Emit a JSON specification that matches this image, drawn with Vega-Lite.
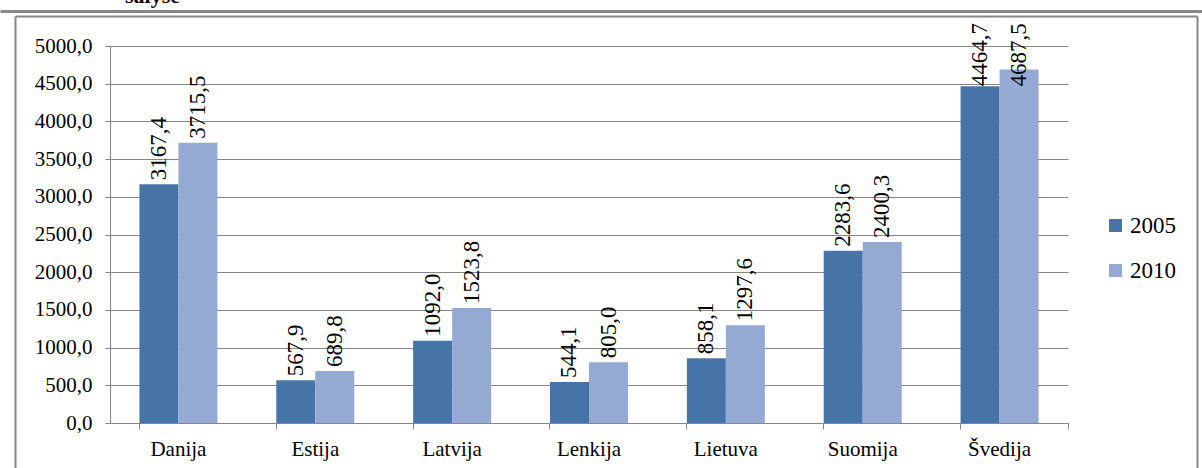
{
  "$schema": "https://vega.github.io/schema/vega-lite/v6.json",
  "width": 958,
  "height": 377,
  "autosize": {"type": "none"},
  "padding": {"left": 110, "top": 46, "right": 134, "bottom": 45},
  "background": "white",
  "config": {
    "font": "Liberation Serif",
    "view": {"stroke": null},
    "axis": {"labelFont": "Liberation Serif", "labelColor": "black", "labelFontSize": 21, "domainColor": "#868686", "tickColor": "#868686", "gridColor": "#868686"},
    "legend": {"labelFont": "Liberation Serif"},
    "text": {"font": "Liberation Serif"}
  },
  "title": {"text": "salyse", "anchor": "start", "frame": "group", "dx": 15, "dy": 14, "offset": 0, "fontSize": 22, "fontWeight": "bold", "font": "Liberation Serif", "color": "black", "baseline": "alphabetic"},
  "datasets": {
    "main": [
      {"country": "Danija", "year": "2005", "value": 3167.4, "label": "3167,4"},
      {"country": "Danija", "year": "2010", "value": 3715.5, "label": "3715,5"},
      {"country": "Estija", "year": "2005", "value": 567.9, "label": "567,9"},
      {"country": "Estija", "year": "2010", "value": 689.8, "label": "689,8"},
      {"country": "Latvija", "year": "2005", "value": 1092.0, "label": "1092,0"},
      {"country": "Latvija", "year": "2010", "value": 1523.8, "label": "1523,8"},
      {"country": "Lenkija", "year": "2005", "value": 544.1, "label": "544,1"},
      {"country": "Lenkija", "year": "2010", "value": 805.0, "label": "805,0"},
      {"country": "Lietuva", "year": "2005", "value": 858.1, "label": "858,1"},
      {"country": "Lietuva", "year": "2010", "value": 1297.6, "label": "1297,6"},
      {"country": "Suomija", "year": "2005", "value": 2283.6, "label": "2283,6"},
      {"country": "Suomija", "year": "2010", "value": 2400.3, "label": "2400,3"},
      {"country": "Švedija", "year": "2005", "value": 4464.7, "label": "4464,7"},
      {"country": "Švedija", "year": "2010", "value": 4687.5, "label": "4687,5"}
    ],
    "frame": [{"f": 0}, {"f": 1}]
  },
  "layer": [
    {
      "data": {"name": "main"},
      "encoding": {
        "x": {"field": "country", "type": "nominal", "sort": ["Danija", "Estija", "Latvija", "Lenkija", "Lietuva", "Suomija", "Švedija"],
              "scale": {"paddingInner": 0.43, "paddingOuter": 0.215},
              "axis": {"title": null, "labelAngle": 0, "bandPosition": 0, "tickSize": 6, "labelPadding": 9, "grid": false}},
        "xOffset": {"field": "year", "type": "nominal"},
        "y": {"field": "value", "type": "quantitative", "scale": {"domain": [0, 5000], "nice": false},
              "axis": {"title": null, "values": [0, 500, 1000, 1500, 2000, 2500, 3000, 3500, 4000, 4500, 5000], "labelExpr": "replace(format(datum.value, '.1f'), '.', ',')", "tickSize": 5, "labelPadding": 13, "grid": true}}
      },
      "layer": [
        {
          "mark": {"type": "bar"},
          "encoding": {
            "color": {"field": "year", "type": "nominal", "scale": {"range": ["#4674A8", "#95AAD3"]},
                      "legend": {"orient": "none", "legendX": 994, "legendY": 168, "title": null, "labelFontSize": 23, "labelColor": "black", "symbolType": "square", "symbolSize": 169, "symbolStrokeWidth": 0, "rowPadding": 21, "labelOffset": 3, "padding": 0, "offset": 0}}
          }
        },
        {
          "mark": {"type": "text", "angle": 270, "align": "left", "baseline": "middle", "dx": {"expr": "datum.value > 4600 ? -17 : (datum.value > 4400 ? 0 : 4)"}, "fontSize": 23, "font": "Liberation Serif", "color": "black"},
          "encoding": {"text": {"field": "label", "type": "nominal"}}
        }
      ]
    },
    {
      "data": {"name": "frame"},
      "mark": {"type": "point", "opacity": 0},
      "encoding": {
        "x": {"field": "f", "type": "quantitative", "scale": {"domain": [0, 1], "range": [-95, 1087], "nice": false, "zero": false},
              "axis": {"orient": "top", "offset": 30, "domainColor": "#868686", "domainWidth": 2, "ticks": false, "labels": false, "grid": false, "title": null}},
        "y": {"field": "f", "type": "quantitative", "scale": {"domain": [0, 1], "range": [440, -30], "nice": false, "zero": false},
              "axis": {"orient": "left", "offset": 95, "domainColor": "#868686", "domainWidth": 2, "ticks": false, "labels": false, "grid": false, "title": null}}
      }
    },
    {
      "data": {"name": "frame"},
      "mark": {"type": "point", "opacity": 0},
      "encoding": {
        "y": {"field": "f", "type": "quantitative", "scale": {"domain": [0, 1], "range": [440, -30], "nice": false, "zero": false},
              "axis": {"orient": "right", "offset": 129, "domainColor": "#868686", "domainWidth": 2, "ticks": false, "labels": false, "grid": false, "title": null}}
      }
    },
    {
      "data": {"name": "frame"},
      "mark": {"type": "point", "opacity": 0},
      "encoding": {
        "x": {"field": "f", "type": "quantitative", "scale": {"domain": [0, 1], "range": [-110, 1092], "nice": false, "zero": false},
              "axis": {"orient": "top", "offset": 35, "domainColor": "#868686", "domainWidth": 3, "ticks": false, "labels": false, "grid": false, "title": null}}
      }
    },
    {
      "data": {"name": "frame"},
      "mark": {"type": "point", "opacity": 0},
      "encoding": {
        "x": {"field": "f", "type": "quantitative", "scale": {"domain": [0, 1], "nice": false, "zero": false},
              "axis": {"orient": "bottom", "values": [1], "domain": false, "labels": false, "grid": false, "title": null, "tickSize": 6, "tickColor": "#868686"}}
      }
    }
  ],
  "resolve": {"scale": {"x": "independent", "y": "independent"}, "axis": {"x": "independent", "y": "independent"}}
}
